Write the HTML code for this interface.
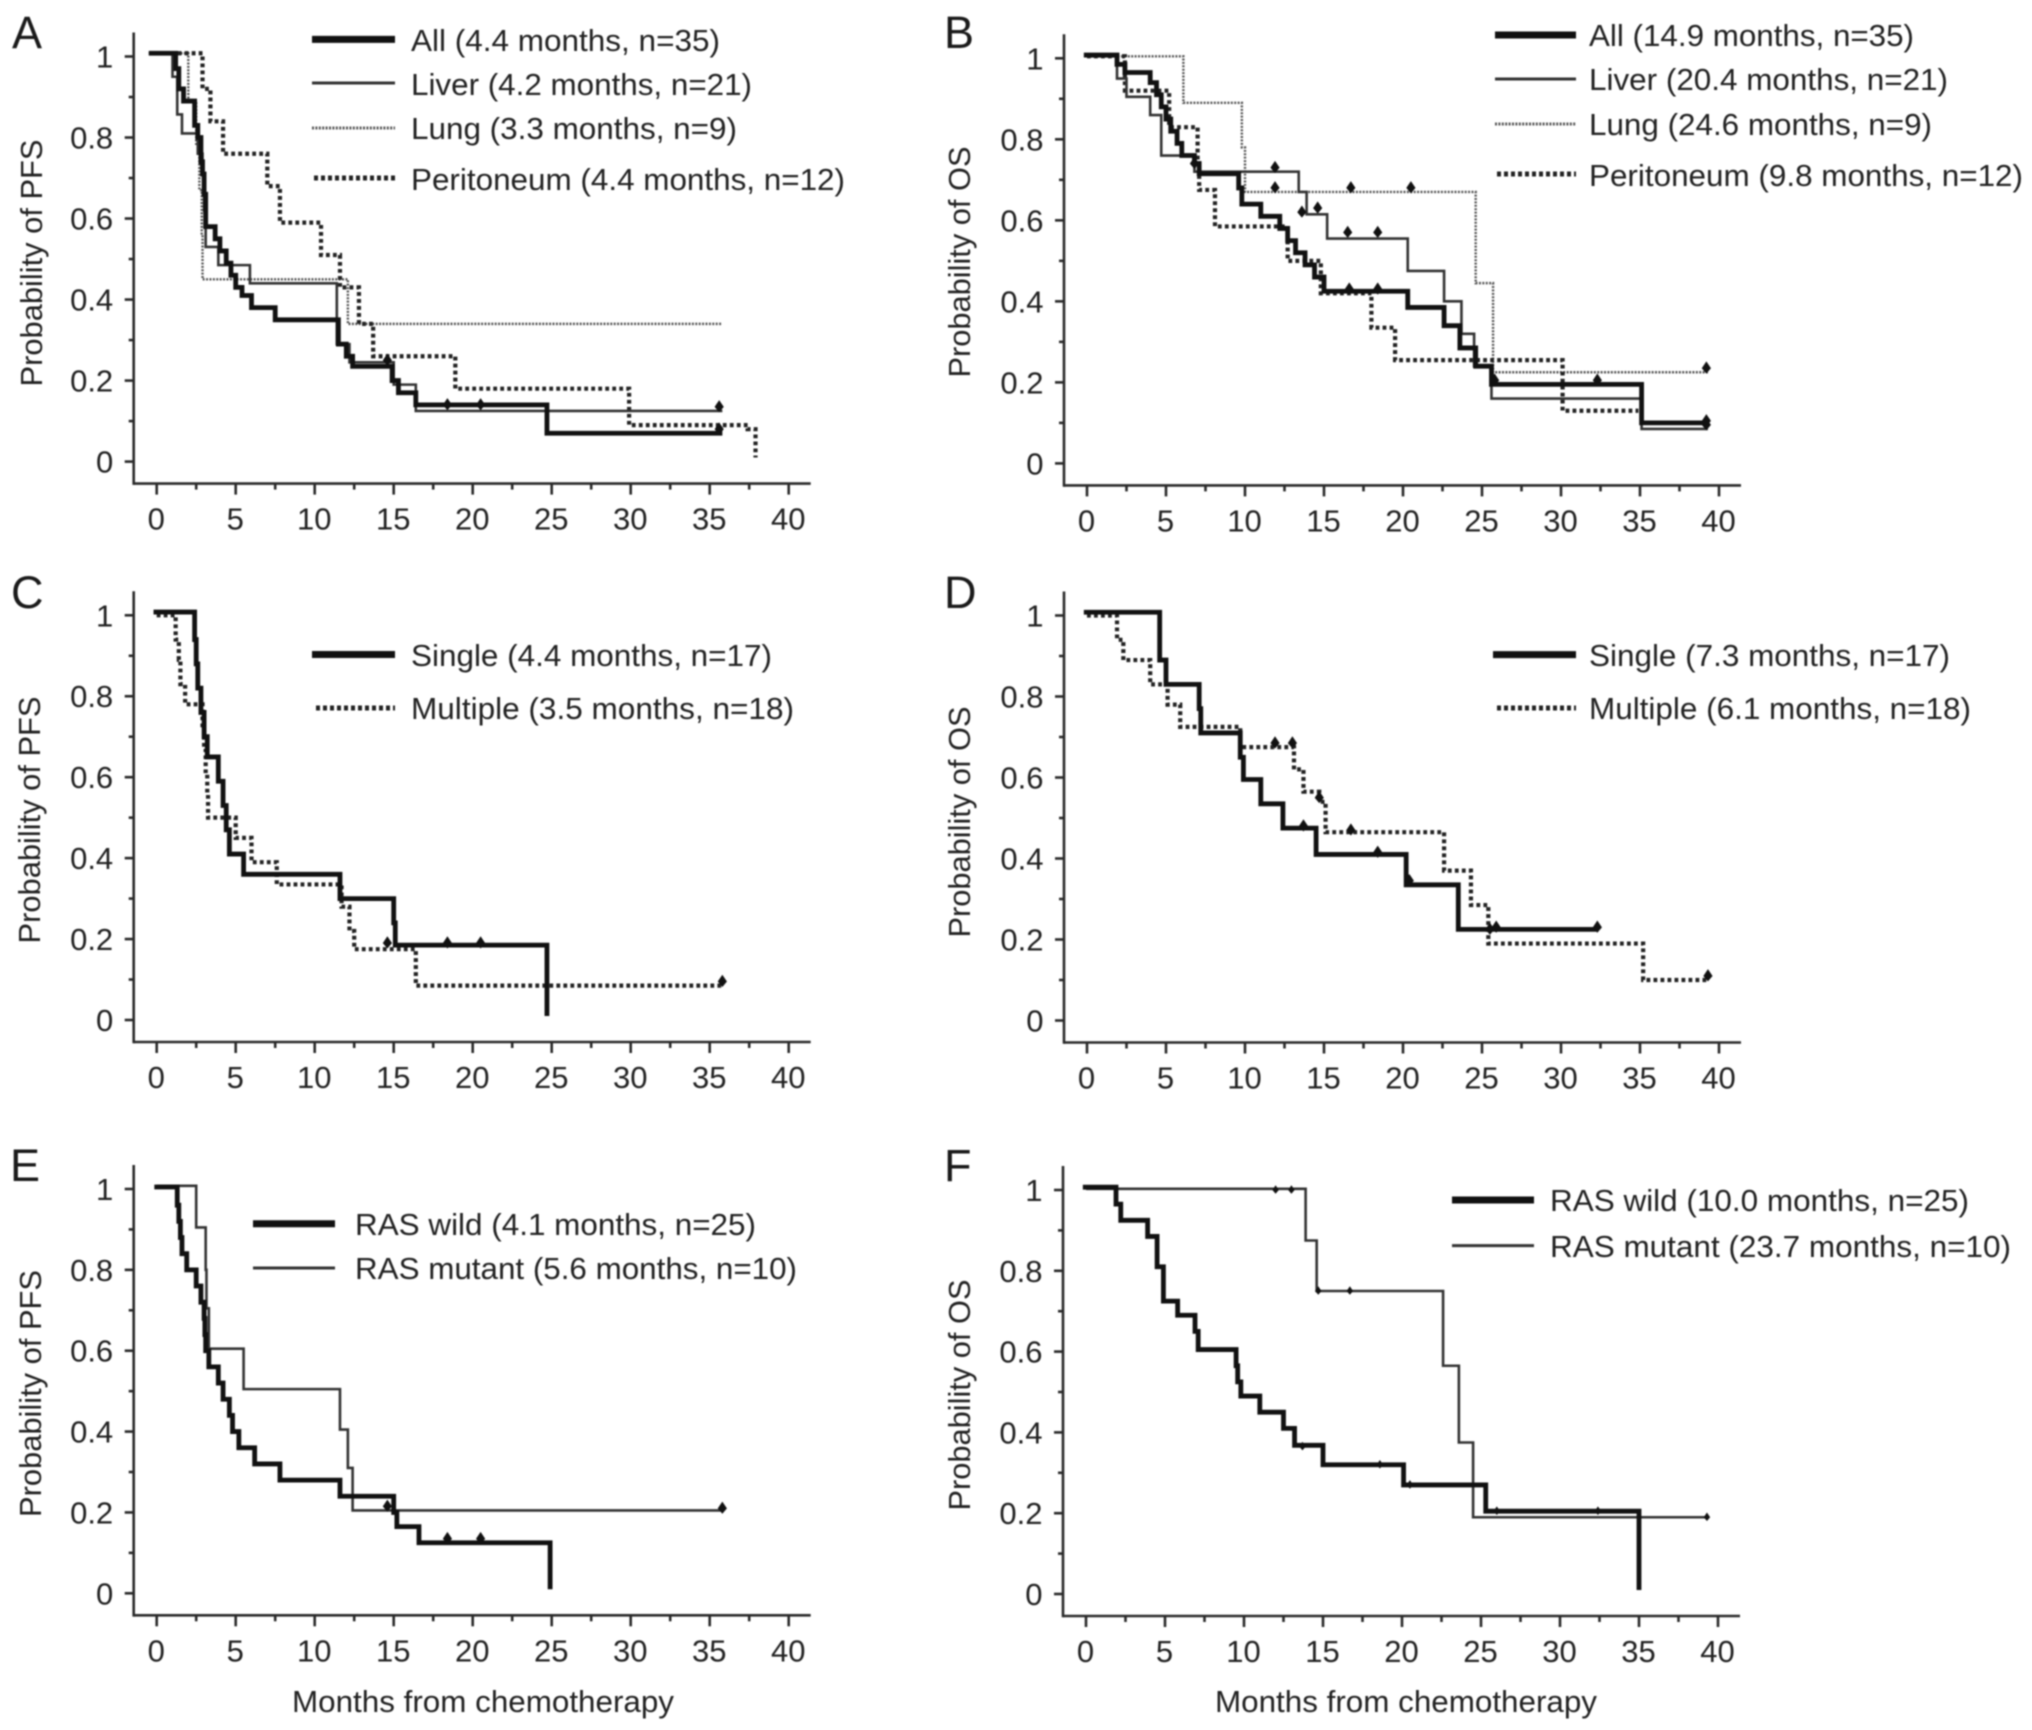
<!DOCTYPE html>
<html lang="en">
<head>
<meta charset="utf-8">
<title>Kaplan-Meier survival curves</title>
<style>
html,body{margin:0;padding:0;background:#fff;}
svg{display:block;filter:blur(0.7px);}
text{font-family:"Liberation Sans",Arial,sans-serif;font-size:31px;fill:#222;}
.letter{font-size:45px;fill:#1a1a1a;}
.axis{stroke:#2a2a2a;stroke-width:2.6;fill:none;}
.curve{fill:none;stroke-linejoin:miter;stroke-linecap:butt;}
</style>
</head>
<body>
<svg xmlns="http://www.w3.org/2000/svg" width="2032" height="1730" viewBox="0 0 2032 1730">
<rect width="2032" height="1730" fill="#fff"/>

<g>
<text class="letter" x="12" y="48">A</text>
<text transform="translate(42,263) rotate(-90)" text-anchor="middle" textLength="247" lengthAdjust="spacingAndGlyphs">Probability of PFS</text>
<g id="plot-a"></g>
<g>
<line x1="312" x2="395" y1="39.4" y2="39.4" stroke="#111" stroke-width="7"/>
<text x="411" y="51" textLength="309" lengthAdjust="spacingAndGlyphs">All (4.4 months, n=35)</text>
<line x1="312" x2="395" y1="83" y2="83" stroke="#333" stroke-width="3"/>
<text x="411" y="95" textLength="341" lengthAdjust="spacingAndGlyphs">Liver (4.2 months, n=21)</text>
<line x1="312" x2="395" y1="128" y2="128" stroke="#555" stroke-width="3" stroke-dasharray="2 1.4"/>
<text x="411" y="139" textLength="326" lengthAdjust="spacingAndGlyphs">Lung (3.3 months, n=9)</text>
<line x1="314" x2="395" y1="178" y2="178" stroke="#222" stroke-width="5" stroke-dasharray="4 3"/>
<text x="411" y="190" textLength="434" lengthAdjust="spacingAndGlyphs">Peritoneum (4.4 months, n=12)</text>
</g>
</g>

<g>
<text class="letter" x="944" y="48">B</text>
<text transform="translate(970,262) rotate(-90)" text-anchor="middle" textLength="231" lengthAdjust="spacingAndGlyphs">Probability of OS</text>
<g id="plot-b"></g>
<g>
<line x1="1495" x2="1576" y1="35" y2="35" stroke="#111" stroke-width="7"/>
<text x="1589" y="46" textLength="325" lengthAdjust="spacingAndGlyphs">All (14.9 months, n=35)</text>
<line x1="1495" x2="1576" y1="79" y2="79" stroke="#333" stroke-width="3"/>
<text x="1589" y="90" textLength="359" lengthAdjust="spacingAndGlyphs">Liver (20.4 months, n=21)</text>
<line x1="1495" x2="1576" y1="124" y2="124" stroke="#555" stroke-width="3" stroke-dasharray="2 1.4"/>
<text x="1589" y="135" textLength="343" lengthAdjust="spacingAndGlyphs">Lung (24.6 months, n=9)</text>
<line x1="1497" x2="1576" y1="174" y2="174" stroke="#222" stroke-width="5" stroke-dasharray="4 3"/>
<text x="1589" y="186" textLength="434" lengthAdjust="spacingAndGlyphs">Peritoneum (9.8 months, n=12)</text>
</g>
</g>

<g>
<text class="letter" x="11" y="608">C</text>
<text transform="translate(40,820) rotate(-90)" text-anchor="middle" textLength="247" lengthAdjust="spacingAndGlyphs">Probability of PFS</text>
<g id="plot-c"></g>
<g>
<line x1="312" x2="395" y1="654.5" y2="654.5" stroke="#111" stroke-width="7"/>
<text x="411" y="666" textLength="361" lengthAdjust="spacingAndGlyphs">Single (4.4 months, n=17)</text>
<line x1="316" x2="395" y1="708" y2="708" stroke="#222" stroke-width="5" stroke-dasharray="4 3"/>
<text x="411" y="719" textLength="383" lengthAdjust="spacingAndGlyphs">Multiple (3.5 months, n=18)</text>
</g>
</g>

<g>
<text class="letter" x="944" y="608">D</text>
<text transform="translate(970,822) rotate(-90)" text-anchor="middle" textLength="231" lengthAdjust="spacingAndGlyphs">Probability of OS</text>
<g id="plot-d"></g>
<g>
<line x1="1493" x2="1576" y1="654.6" y2="654.6" stroke="#111" stroke-width="7"/>
<text x="1589" y="666" textLength="361" lengthAdjust="spacingAndGlyphs">Single (7.3 months, n=17)</text>
<line x1="1497" x2="1576" y1="708" y2="708" stroke="#222" stroke-width="5" stroke-dasharray="4 3"/>
<text x="1589" y="719" textLength="382" lengthAdjust="spacingAndGlyphs">Multiple (6.1 months, n=18)</text>
</g>
</g>

<g>
<text class="letter" x="10" y="1181">E</text>
<text transform="translate(41,1393.5) rotate(-90)" text-anchor="middle" textLength="247" lengthAdjust="spacingAndGlyphs">Probability of PFS</text>
<g id="plot-e"></g>
<g>
<line x1="253" x2="335" y1="1223.7" y2="1223.7" stroke="#111" stroke-width="7"/>
<text x="355" y="1235" textLength="401" lengthAdjust="spacingAndGlyphs">RAS wild (4.1 months, n=25)</text>
<line x1="253" x2="335" y1="1268" y2="1268" stroke="#333" stroke-width="3"/>
<text x="355" y="1279" textLength="442" lengthAdjust="spacingAndGlyphs">RAS mutant (5.6 months, n=10)</text>
</g>
<text x="292" y="1712" textLength="382" lengthAdjust="spacingAndGlyphs">Months from chemotherapy</text>
</g>

<g>
<text class="letter" x="944" y="1181">F</text>
<text transform="translate(970,1395) rotate(-90)" text-anchor="middle" textLength="231" lengthAdjust="spacingAndGlyphs">Probability of OS</text>
<g id="plot-f"></g>
<g>
<line x1="1452" x2="1534" y1="1200" y2="1200" stroke="#111" stroke-width="7"/>
<text x="1550" y="1211" textLength="419" lengthAdjust="spacingAndGlyphs">RAS wild (10.0 months, n=25)</text>
<line x1="1452" x2="1534" y1="1245.6" y2="1245.6" stroke="#333" stroke-width="3"/>
<text x="1550" y="1257" textLength="461" lengthAdjust="spacingAndGlyphs">RAS mutant (23.7 months, n=10)</text>
</g>
<text x="1215" y="1712" textLength="382" lengthAdjust="spacingAndGlyphs">Months from chemotherapy</text>
</g>
</svg>

<script>
// Tick values
const xTickLabels = [0, 5, 10, 15, 20, 25, 30, 35, 40];
const xMinorTicks = [2.5, 7.5, 12.5, 17.5, 22.5, 27.5, 32.5, 37.5];
const yTickLabels = [0, 0.2, 0.4, 0.6, 0.8, 1];
const yMinorTicks = [0.1, 0.3, 0.5, 0.7, 0.9];

// Panel A: PFS by site
const aAllMonths = [-0.5, 1.2, 1.4, 1.7, 2.4, 2.6, 2.8, 2.9, 3.0, 3.1, 3.7, 4.0, 4.4, 4.7, 5.0, 5.4, 6.0, 7.5, 11.5, 12.0, 12.4, 14.9, 15.3, 16.4, 24.7, 35.8];
const aAllSurvival = [1.008, 0.97, 0.92, 0.89, 0.83, 0.8, 0.74, 0.71, 0.66, 0.58, 0.55, 0.52, 0.49, 0.46, 0.43, 0.41, 0.38, 0.35, 0.29, 0.26, 0.235, 0.2, 0.17, 0.14, 0.07, 0.07];
const aLiverMonths = [-0.5, 1.0, 1.3, 1.6, 2.6, 2.9, 3.0, 3.1, 3.9, 5.9, 11.4, 12.2, 15.0, 16.4, 35.8];
const aLiverSurvival = [1.008, 0.95, 0.857, 0.81, 0.76, 0.71, 0.62, 0.53, 0.485, 0.44, 0.29, 0.245, 0.19, 0.125, 0.125];
const aLungMonths = [0, 2.0, 2.5, 2.7, 2.85, 2.9, 12.1, 35.8];
const aLungSurvival = [1.008, 0.89, 0.78, 0.67, 0.56, 0.45, 0.34, 0.34];
const aPeritoneumMonths = [0, 2.9, 3.4, 4.2, 7.0, 7.8, 10.4, 11.6, 12.8, 13.7, 18.9, 29.9, 37.4, 37.9, 37.9];
const aPeritoneumSurvival = [1.008, 0.92, 0.84, 0.76, 0.68, 0.59, 0.51, 0.43, 0.34, 0.26, 0.18, 0.09, 0.08, 0.01, 0.01];
const aCensorMonths = [14.6, 18.4, 20.5, 35.6, 35.6];
const aCensorSurvival = [0.25, 0.14, 0.14, 0.135, 0.08];

// Panel B: OS by site
const bAllMonths = [-0.2, 1.9, 2.4, 4.0, 4.4, 4.7, 5.0, 5.3, 5.7, 6.0, 6.8, 7.1, 9.6, 9.8, 11, 12.2, 12.7, 13.2, 13.8, 14.4, 15, 20.3, 22.6, 23.6, 24.6, 25.6, 35.1, 39.3];
const bAllSurvival = [1.008, 0.985, 0.965, 0.94, 0.91, 0.88, 0.85, 0.82, 0.79, 0.76, 0.74, 0.715, 0.68, 0.64, 0.61, 0.58, 0.55, 0.52, 0.49, 0.46, 0.425, 0.385, 0.34, 0.285, 0.24, 0.195, 0.1, 0.1];
const bLiverMonths = [0, 1.9, 2.5, 4.0, 4.7, 6.8, 13.4, 13.9, 15.2, 20.3, 22.6, 23.7, 24.5, 25.6, 35.1, 39.3];
const bLiverSurvival = [1.005, 0.95, 0.905, 0.86, 0.76, 0.72, 0.67, 0.615, 0.555, 0.475, 0.4, 0.32, 0.24, 0.16, 0.085, 0.085];
const bLungMonths = [0, 6.1, 9.8, 10, 24.6, 25.7, 39.3];
const bLungSurvival = [1.005, 0.89, 0.78, 0.67, 0.445, 0.225, 0.225];
const bPeritoneumMonths = [0, 2.4, 5.2, 7.0, 7.1, 8.1, 12.7, 14.8, 18, 19.5, 30.1, 34.9];
const bPeritoneumSurvival = [1.005, 0.92, 0.83, 0.75, 0.675, 0.585, 0.5, 0.42, 0.335, 0.255, 0.13, 0.13];
const bCensorMonths = [6.8, 11.9, 11.9, 13.6, 14.6, 16.7, 20.5, 16.5, 18.4, 16.6, 18.4, 25.8, 32.3, 39.2, 39.2, 39.2];
const bCensorSurvival = [0.74, 0.73, 0.68, 0.62, 0.63, 0.68, 0.68, 0.57, 0.57, 0.43, 0.43, 0.205, 0.205, 0.235, 0.105, 0.095];

// Panel C: PFS by metastatic sites
const cSingleMonths = [-0.2, 2.4, 2.5, 2.6, 2.8, 3.0, 3.2, 3.9, 4.2, 4.4, 4.6, 5.5, 11.6, 15.0, 15.1, 24.7, 24.7];
const cSingleSurvival = [1.008, 0.94, 0.88, 0.82, 0.76, 0.7, 0.65, 0.59, 0.53, 0.47, 0.41, 0.36, 0.3, 0.24, 0.185, 0.01, 0.01];
const cMultipleMonths = [0, 1.2, 1.4, 1.5, 1.8, 2.9, 3.0, 3.1, 3.2, 3.25, 5.0, 6.0, 7.6, 11.7, 12.2, 12.5, 16.4, 35.8];
const cMultipleSurvival = [1, 0.94, 0.89, 0.83, 0.78, 0.72, 0.67, 0.61, 0.56, 0.5, 0.45, 0.39, 0.335, 0.28, 0.22, 0.175, 0.085, 0.085];
const cCensorMonths = [14.6, 18.4, 20.5, 35.8];
const cCensorSurvival = [0.19, 0.19, 0.19, 0.095];

// Panel D: OS by metastatic sites
const dSingleMonths = [-0.2, 4.6, 5, 7.1, 7.2, 9.7, 9.9, 11, 12.4, 14.5, 20.2, 23.5, 32.3];
const dSingleSurvival = [1.008, 0.89, 0.83, 0.77, 0.71, 0.65, 0.595, 0.535, 0.475, 0.41, 0.335, 0.225, 0.225];
const dMultipleMonths = [0, 1.9, 2.3, 4, 5.1, 5.9, 9.7, 13.1, 13.7, 14.7, 15.1, 22.6, 24.3, 25.4, 35.2, 39.3];
const dMultipleSurvival = [1, 0.94, 0.89, 0.83, 0.78, 0.725, 0.675, 0.62, 0.565, 0.54, 0.465, 0.37, 0.285, 0.19, 0.1, 0.1];
const dCensorMonths = [11.9, 13, 14.7, 16.7, 13.7, 18.4, 20.4, 25.5, 25.9, 32.3, 39.3];
const dCensorSurvival = [0.685, 0.685, 0.55, 0.47, 0.48, 0.415, 0.345, 0.225, 0.23, 0.23, 0.11];

// Panel E: PFS by RAS status
const eWildMonths = [-0.15, 1.3, 1.4, 1.5, 1.6, 1.9, 2.5, 2.8, 3.0, 3.05, 3.1, 3.2, 3.3, 3.9, 4.2, 4.6, 4.8, 5.2, 6.2, 7.8, 11.6, 15, 15.2, 16.6, 24.9, 24.9];
const eWildSurvival = [1.005, 0.96, 0.92, 0.88, 0.84, 0.8, 0.76, 0.72, 0.68, 0.64, 0.6, 0.6, 0.56, 0.52, 0.48, 0.44, 0.4, 0.36, 0.32, 0.28, 0.24, 0.2, 0.165, 0.125, 0.01, 0.01];
const eMutantMonths = [0, 2.5, 3.1, 3.15, 3.3, 5.5, 11.6, 12.1, 12.4, 35.8];
const eMutantSurvival = [1.008, 0.905, 0.8, 0.705, 0.605, 0.505, 0.405, 0.31, 0.205, 0.205];
const eCensorMonths = [14.6, 35.8, 18.4, 20.5];
const eCensorSurvival = [0.215, 0.21, 0.135, 0.135];

// Panel F: OS by RAS status
const fWildMonths = [-0.2, 1.9, 2.2, 3.9, 4.5, 4.9, 5.8, 6.9, 7.1, 9.5, 9.6, 9.8, 11, 12.5, 13.2, 15, 20.1, 25.3, 35, 35];
const fWildSurvival = [1.007, 0.965, 0.925, 0.885, 0.81, 0.725, 0.69, 0.65, 0.605, 0.565, 0.525, 0.49, 0.45, 0.41, 0.368, 0.32, 0.27, 0.205, 0.01, 0.01];
const fMutantMonths = [0, 13.9, 14.6, 22.6, 23.6, 24.5, 39.3];
const fMutantSurvival = [1.003, 0.875, 0.75, 0.565, 0.375, 0.19, 0.19];
const fCensorMonths = [12, 13, 14.7, 16.7, 13.7, 18.6, 20.5, 26, 32.4, 39.3];
const fCensorSurvival = [1, 1, 0.75, 0.75, 0.365, 0.32, 0.27, 0.205, 0.205, 0.19];

const NS = 'http://www.w3.org/2000/svg';
const STYLES = {
  thick:  { stroke: '#111', width: 4.8, dash: null },
  thin:   { stroke: '#333', width: 2.6, dash: null },
  lung:   { stroke: '#555', width: 2.4, dash: '2 1.4' },
  dotted: { stroke: '#222', width: 4.2, dash: '3.8 3.2' }
};

function make(parent, tag, attrs) {
  const el = document.createElementNS(NS, tag);
  for (const k in attrs) el.setAttribute(k, attrs[k]);
  parent.appendChild(el);
  return el;
}

function drawPanel(id, box, series, censorMonths, censorSurvival) {
  const g = document.getElementById('plot-' + id);
  const xScale = function (m) { return box.x0 + m * 15.8; };
  const yScale = function (p) { return box.y0 - p * (box.y0 - box.y1); };
  const bottom = box.y0 + 22;
  const left = box.x0 - 23;
  const markSize = box.markSize;

  const yAxis = make(g, 'line', { class: 'axis', x1: left, x2: left, y1: box.y1 - 24, y2: bottom + 1.3 });
  
  
  const xAxis = make(g, 'line', { class: 'axis', x1: left, x2: xScale(40) + 22, y1: bottom, y2: bottom });
  
  

  xTickLabels.forEach(function (v) {
    const tick = make(g, 'line', { class: 'axis', x1: xScale(v), x2: xScale(v), y1: bottom, y2: bottom + 11 });
    
    
    const label = make(g, 'text', { x: xScale(v) - 0.5, y: bottom + 46, 'text-anchor': 'middle' });
    
    
    label.textContent = String(v);
  });
  xMinorTicks.forEach(function (v) {
    const tick = make(g, 'line', { class: 'axis', x1: xScale(v), x2: xScale(v), y1: bottom, y2: bottom + 6 });
    
    
  });
  yTickLabels.forEach(function (v) {
    const tick = make(g, 'line', { class: 'axis', x1: left - 9, x2: left, y1: yScale(v), y2: yScale(v) });
    
    
    const label = make(g, 'text', { x: left - 20.5, y: yScale(v) + 11, 'text-anchor': 'end' });
    
    
    label.textContent = String(v);
  });
  yMinorTicks.forEach(function (v) {
    const tick = make(g, 'line', { class: 'axis', x1: left - 5, x2: left, y1: yScale(v), y2: yScale(v) });
    
    
  });

  series.forEach(function (s) {
    let d = 'M' + xScale(s.months[0]) + ' ' + yScale(s.survival[0]);
    for (let i = 1; i < s.months.length; i++) {
      d += 'H' + xScale(s.months[i]) + 'V' + yScale(s.survival[i]);
    }
    const st = STYLES[s.style];
    const path = make(g, 'path', { class: 'curve', d: d, stroke: st.stroke, 'stroke-width': st.width });
    if (st.dash) path.setAttribute('stroke-dasharray', st.dash);
    
    
  });

  censorMonths.forEach(function (m, i) {
    const cx = xScale(m);
    const cy = yScale(censorSurvival[i]);
    const w = 4.6 * markSize;
    const up = 6.8 * markSize;
    const down = 5.4 * markSize;
    const mark = make(g, 'path', { d: 'M' + cx + ' ' + (cy - up) + 'l' + w + ' ' + up + 'l' + (-w) + ' ' + down + 'l' + (-w) + ' ' + (-down) + 'z', fill: '#111' });
    
    
  });
}

drawPanel('a', { x0: 156.7, y0: 461.6, y1: 56.5, markSize: 1 }, [
  { name: 'lung', months: aLungMonths, survival: aLungSurvival, style: 'lung' },
  { name: 'peritoneum', months: aPeritoneumMonths, survival: aPeritoneumSurvival, style: 'dotted' },
  { name: 'liver', months: aLiverMonths, survival: aLiverSurvival, style: 'thin' },
  { name: 'all', months: aAllMonths, survival: aAllSurvival, style: 'thick' }
], aCensorMonths, aCensorSurvival);

drawPanel('b', { x0: 1087, y0: 463.4, y1: 58.3, markSize: 1 }, [
  { name: 'lung', months: bLungMonths, survival: bLungSurvival, style: 'lung' },
  { name: 'peritoneum', months: bPeritoneumMonths, survival: bPeritoneumSurvival, style: 'dotted' },
  { name: 'liver', months: bLiverMonths, survival: bLiverSurvival, style: 'thin' },
  { name: 'all', months: bAllMonths, survival: bAllSurvival, style: 'thick' }
], bCensorMonths, bCensorSurvival);

drawPanel('c', { x0: 156.7, y0: 1020, y1: 615.3, markSize: 1 }, [
  { name: 'multiple', months: cMultipleMonths, survival: cMultipleSurvival, style: 'dotted' },
  { name: 'single', months: cSingleMonths, survival: cSingleSurvival, style: 'thick' }
], cCensorMonths, cCensorSurvival);

drawPanel('d', { x0: 1087, y0: 1020.5, y1: 615.5, markSize: 1 }, [
  { name: 'multiple', months: dMultipleMonths, survival: dMultipleSurvival, style: 'dotted' },
  { name: 'single', months: dSingleMonths, survival: dSingleSurvival, style: 'thick' }
], dCensorMonths, dCensorSurvival);

drawPanel('e', { x0: 156.7, y0: 1593.3, y1: 1189, markSize: 1 }, [
  { name: 'ras-mutant', months: eMutantMonths, survival: eMutantSurvival, style: 'thin' },
  { name: 'ras-wild', months: eWildMonths, survival: eWildSurvival, style: 'thick' }
], eCensorMonths, eCensorSurvival);

drawPanel('f', { x0: 1086, y0: 1594, y1: 1190, markSize: 0.7 }, [
  { name: 'ras-mutant', months: fMutantMonths, survival: fMutantSurvival, style: 'thin' },
  { name: 'ras-wild', months: fWildMonths, survival: fWildSurvival, style: 'thick' }
], fCensorMonths, fCensorSurvival);
</script>
</body>
</html>
